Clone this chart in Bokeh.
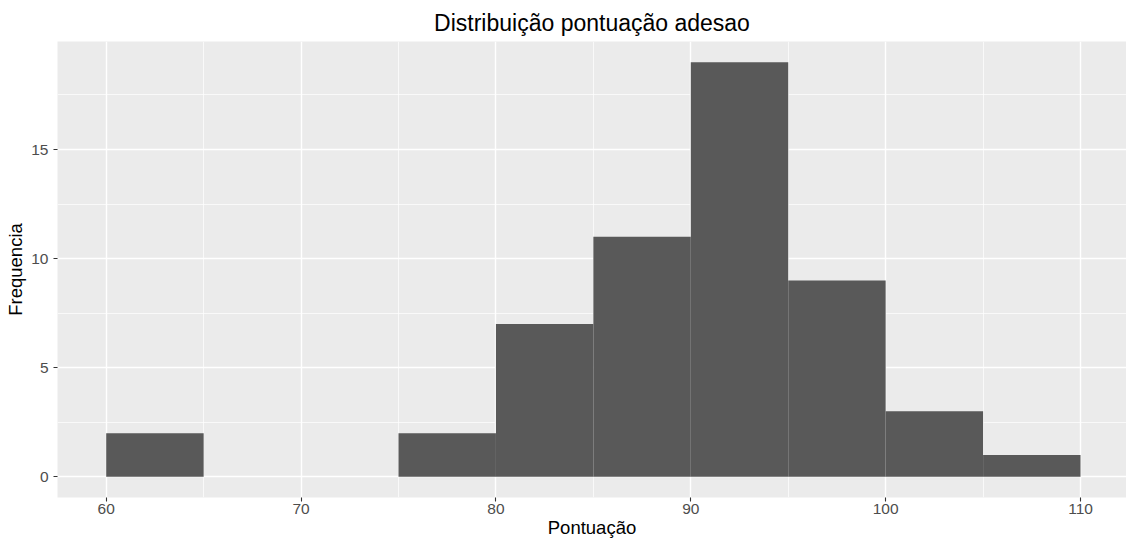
from bokeh.plotting import figure
from bokeh.models import FixedTicker, Range1d
from bokeh.embed import file_html
from bokeh.resources import INLINE

bin_left = [60, 65, 70, 75, 80, 85, 90, 95, 100, 105]
bin_right = [65, 70, 75, 80, 85, 90, 95, 100, 105, 110]
counts = [2, 0, 0, 2, 7, 11, 19, 9, 3, 1]
x_ticks = [60, 70, 80, 90, 100, 110]
x_minor = [65, 75, 85, 95, 105]
y_ticks = [0, 5, 10, 15]
y_minor = [2.5, 7.5, 12.5, 17.5]

FONT = "Liberation Sans"

p = figure(width=1126, height=542, output_backend="svg", toolbar_location=None,
           x_range=Range1d(57.5, 112.36), y_range=Range1d(-0.95, 19.95),
           min_border_left=57, min_border_right=0, min_border_top=41, min_border_bottom=45)

p.quad(left=bin_left, right=bin_right, top=counts, bottom=0,
       fill_color="#595959", line_color=None)

p.background_fill_color = "#EBEBEB"
p.border_fill_color = "white"
p.outline_line_color = None

p.xaxis.ticker = FixedTicker(ticks=x_ticks, minor_ticks=x_minor)
p.yaxis.ticker = FixedTicker(ticks=y_ticks, minor_ticks=y_minor)

for g in (p.xgrid, p.ygrid):
    g.grid_line_color = "white"
    g.grid_line_width = 1.4
    g.minor_grid_line_color = "white"
    g.minor_grid_line_width = 0.7
    g.level = "underlay"

for ax in (p.xaxis, p.yaxis):
    ax.axis_line_color = None
    ax.major_tick_line_color = "#333333"
    ax.major_tick_line_width = 1.1
    ax.major_tick_out = 4
    ax.major_tick_in = 0
    ax.minor_tick_line_color = None
    ax.major_label_text_font = FONT
    ax.major_label_text_font_size = "15.5px"
    ax.major_label_text_color = "#4D4D4D"
    ax.axis_label_text_font = FONT
    ax.axis_label_text_font_size = "18.5px"
    ax.axis_label_text_font_style = "normal"
    ax.axis_label_text_color = "black"

p.xaxis.major_label_standoff = 2
p.yaxis.major_label_standoff = 5
p.xaxis.axis_label = "Pontuação"
p.xaxis.axis_label_standoff = 0
p.yaxis.axis_label = "Frequencia"
p.yaxis.axis_label_standoff = 2

p.title.text = "Distribuição pontuação adesao"
p.title.align = "center"
p.title.text_font = FONT
p.title.text_font_size = "23px"
p.title.text_font_style = "normal"
p.title.text_color = "black"
p.title.standoff = 11

open("out.html", "w").write(file_html(p, INLINE))
